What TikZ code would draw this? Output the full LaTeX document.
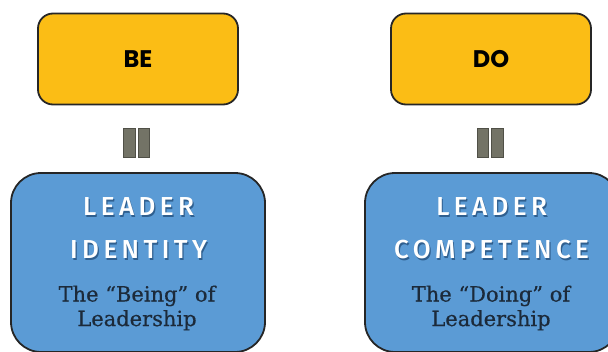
\documentclass[tikz,border=0pt]{standalone}
\usepackage{fontspec}
\usetikzlibrary{calc}
\setmainfont[FakeBold=0.5]{DejaVu Serif}
\newfontfamily\headfont[LetterSpace=17]{Fira Sans Medium}
\newfontfamily\tagfont{Poppins}
\definecolor{gold}{HTML}{FBBD15}
\definecolor{skyblue}{HTML}{5B9BD5}
\definecolor{shadeblue}{HTML}{2F5F8F}
\definecolor{barGray}{HTML}{737366}
\definecolor{inkdark}{HTML}{1C2A3A}
\tikzset{
  x=1pt, y=-1pt,
  tagbox/.style={draw=black!85, line width=1.8pt, fill=gold, rounded corners=15pt,
    minimum width=200pt, minimum height=91pt, inner sep=0pt,
    font=\tagfont\bfseries\fontsize{24}{24}\selectfont},
  facetbox/.style={draw=black!85, line width=1.8pt, fill=skyblue, rounded corners=30pt},
  capline/.style={text=white, font=\headfont\fontsize{26}{26}\selectfont, inner sep=0pt},
  capshade/.style={text=shadeblue, font=\headfont\fontsize{26}{26}\selectfont, inner sep=0pt},
  subline/.style={text=inkdark, font=\fontsize{21}{24.5}\selectfont, align=center, inner sep=0pt},
  eqbar/.style={fill=barGray, draw=barGray!70!black, line width=0.5pt}
}
\begin{document}
\begin{tikzpicture}
\useasboundingbox (0,0) rectangle (608,351);
\clip (0,0) rectangle (608,351);

% top labels
\node[tagbox] (be) at (138,59) {BE};
\node[tagbox] (do) at (491,59) {DO};

% equals bars between the two tiers
\coordinate (beq) at (136.5,142.5);
\coordinate (deq) at (490,142.5);
\fill[eqbar] ($(beq)+(-13,-14.5)$) rectangle ($(beq)+(-1.5,14.5)$);
\fill[eqbar] ($(beq)+(1.5,-14.5)$) rectangle ($(beq)+(13,14.5)$);
\fill[eqbar] ($(deq)+(-13,-14.5)$) rectangle ($(deq)+(-1.5,14.5)$);
\fill[eqbar] ($(deq)+(1.5,-14.5)$) rectangle ($(deq)+(13,14.5)$);

% lower panels
\draw[facetbox] (11,173) rectangle (265,352);
\draw[facetbox] (365,173) rectangle (619,352);

% left panel text
\node[capshade] at (139.8,208.2) {LEADER};
\node[capline] (l1) at (138.6,207) {LEADER};
\node[capshade] at (139.8,251.2) {IDENTITY};
\node[capline] (l2) at (138.6,250) {IDENTITY};
\node[subline] (l3) at (137,308) {The “Being” of\\Leadership};

% right panel text
\node[capshade] at (492.8,208.2) {LEADER};
\node[capline] (r1) at (491.6,207) {LEADER};
\node[capshade] at (492.8,251.2) {COMPETENCE};
\node[capline] (r2) at (491.6,250) {COMPETENCE};
\node[subline] (r3) at (491,308) {The “Doing” of\\Leadership};
\end{tikzpicture}
\end{document}
